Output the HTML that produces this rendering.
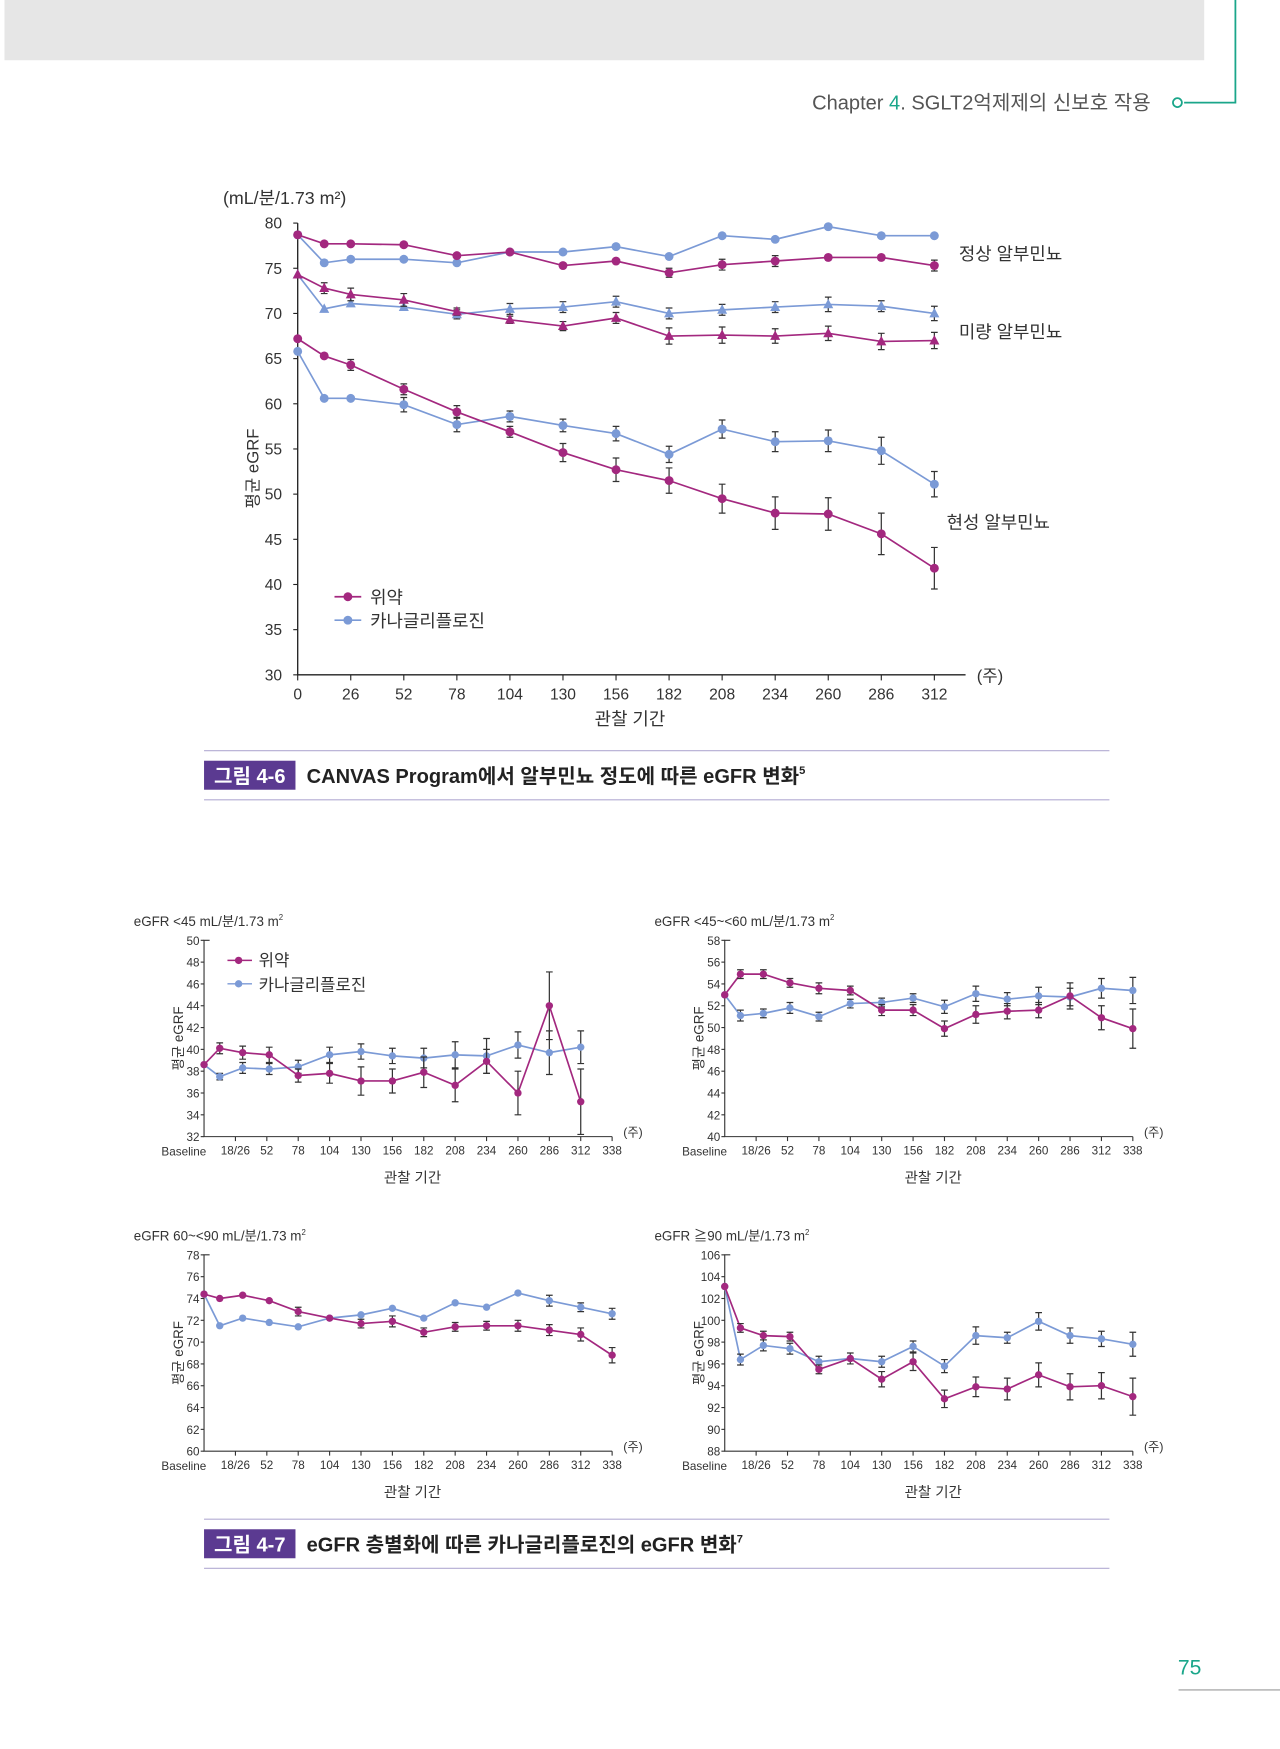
<!DOCTYPE html>
<html><head><meta charset="utf-8"><style>
html,body{margin:0;padding:0;background:#fff;}
svg{display:block;font-family:"Liberation Sans","Noto Sans CJK KR",sans-serif;}
</style></head><body>
<svg id="pg" width="1280" height="1749" viewBox="0 0 1148 1568" preserveAspectRatio="none" xmlns="http://www.w3.org/2000/svg">
<rect x="4" y="0" width="1076" height="54" fill="#e6e6e6"/>
<path d="M1108 0 V92 H1062" fill="none" stroke="#1aa68a" stroke-width="1.6"/>
<circle cx="1056" cy="92" r="4" fill="#fff" stroke="#1aa68a" stroke-width="1.6"/>
<text x="1032" y="98" text-anchor="end" font-size="18" fill="#555">Chapter <tspan fill="#1aa68a">4</tspan>. SGLT2억제제의 신보호 작용</text>
<g id="top"></g>
<g id="c1"></g>
<g id="c2"></g>
<g id="c3"></g>
<g id="c4"></g>
<g>
<line x1="183" y1="673" x2="995" y2="673" stroke="#b3abd3"/><line x1="183" y1="717" x2="995" y2="717" stroke="#b3abd3"/>
<rect x="183" y="682" width="82" height="26" fill="#5b3a91"/>
<text x="224" y="702" text-anchor="middle" fill="#fff" font-size="18" font-weight="bold">그림 4-6</text>
<text x="275" y="702" font-size="18" font-weight="bold" fill="#222">CANVAS Program에서 알부민뇨 정도에 따른 eGFR 변화<tspan font-size="10" dy="-8">5</tspan></text>
</g>
<g>
<line x1="183" y1="1362" x2="995" y2="1362" stroke="#b3abd3"/><line x1="183" y1="1406" x2="995" y2="1406" stroke="#b3abd3"/>
<rect x="183" y="1371" width="82" height="26" fill="#5b3a91"/>
<text x="224" y="1391" text-anchor="middle" fill="#fff" font-size="18" font-weight="bold">그림 4-7</text>
<text x="275" y="1391" font-size="18" font-weight="bold" fill="#222">eGFR 층별화에 따른 카나글리플로진의 eGFR 변화<tspan font-size="10" dy="-8">7</tspan></text>
</g>
<text x="1067" y="1501" text-anchor="middle" font-size="19" fill="#1aa68a">75</text>
<line x1="1057" y1="1515" x2="1148" y2="1515" stroke="#999"/>
</svg>
<script>
const PINK="#a3287f", BLUE="#7b9ad6", NS="http://www.w3.org/2000/svg";
// top chart data
const topWeeks=[0,13,26,52,78,104,130,156,182,208,234,260,286,312];
const topTicks=[0,26,52,78,104,130,156,182,208,234,260,286,312];
const normPlacebo=[78.7,77.7,77.7,77.6,76.4,76.8,75.3,75.8,74.5,75.4,75.8,76.2,76.2,75.3];
const normCana=[78.7,75.6,76.0,76.0,75.6,76.8,76.8,77.4,76.3,78.6,78.2,79.6,78.6,78.6];
const microPlacebo=[74.3,72.8,72.1,71.5,70.2,69.3,68.6,69.5,67.5,67.6,67.5,67.8,66.9,67.0];
const microCana=[74.3,70.5,71.1,70.7,69.9,70.5,70.7,71.3,70.0,70.4,70.7,71.0,70.8,70.0];
const macroPlacebo=[67.2,65.3,64.3,61.6,59.1,56.9,54.6,52.7,51.5,49.5,47.9,47.8,45.6,41.8];
const macroCana=[65.8,60.6,60.6,59.9,57.7,58.6,57.6,56.7,54.4,57.2,55.8,55.9,54.8,51.1];
const normPlaceboErr=[0,0,0,0,0,0,0,0,0.5,0.6,0.6,0,0,0.6];
const normCanaErr=[0,0,0,0,0,0,0,0,0,0,0,0,0,0];
const microPlaceboErr=[0,0.6,0.7,0.7,0.4,0.4,0.5,0.6,0.9,0.9,0.8,0.8,0.9,0.9];
const microCanaErr=[0,0,0,0,0.5,0.6,0.6,0.6,0.6,0.6,0.6,0.8,0.6,0.8];
const macroPlaceboErr=[0,0,0.6,0.6,0.7,0.6,1.0,1.3,1.4,1.6,1.8,1.8,2.3,2.3];
const macroCanaErr=[0,0,0,0.8,0.8,0.6,0.7,0.8,0.9,1.0,1.1,1.2,1.5,1.4];
// small charts data
const smWeeks=[0,13,32,54,78,104,130,156,182,208,234,260,286,312,338];
const smTickVals=[26,52,78,104,130,156,182,208,234,260,286,312,338];
const smTickLabels=["18/26","52","78","104","130","156","182","208","234","260","286","312","338"];
const c1Placebo=[38.6,40.1,39.7,39.5,37.6,37.8,37.1,37.1,37.9,36.7,38.9,36.0,44.0,35.2];
const c1Cana=[38.6,37.5,38.3,38.2,38.4,39.5,39.8,39.4,39.2,39.5,39.4,40.4,39.7,40.2];
const c1PlaceboErr=[0,0.5,0.6,0.7,0.6,0.9,1.3,1.1,1.4,1.5,1.1,2.0,3.1,3.0];
const c1CanaErr=[0,0.3,0.5,0.5,0.6,0.7,0.7,0.7,0.9,1.2,1.6,1.2,2.0,1.5];
const c2Placebo=[53.0,54.9,54.9,54.1,53.6,53.4,51.6,51.6,49.9,51.2,51.5,51.6,52.9,50.9,49.9];
const c2Cana=[53.0,51.1,51.3,51.8,51.0,52.2,52.3,52.7,51.9,53.1,52.6,52.9,52.8,53.6,53.4];
const c2PlaceboErr=[0,0.4,0.4,0.4,0.5,0.4,0.5,0.5,0.7,0.8,0.7,0.7,1.2,1.1,1.8];
const c2CanaErr=[0,0.5,0.4,0.5,0.4,0.4,0.4,0.4,0.6,0.7,0.6,0.8,0.8,0.9,1.2];
const c3Placebo=[74.4,74.0,74.3,73.8,72.8,72.2,71.7,71.9,70.9,71.4,71.5,71.5,71.1,70.7,68.8];
const c3Cana=[74.4,71.5,72.2,71.8,71.4,72.2,72.5,73.1,72.2,73.6,73.2,74.5,73.8,73.2,72.6];
const c3PlaceboErr=[0,0,0,0,0.4,0,0.4,0.5,0.4,0.4,0.4,0.5,0.5,0.6,0.7];
const c3CanaErr=[0,0,0,0,0,0,0,0,0,0,0,0,0.5,0.4,0.5];
const c4Placebo=[103.1,99.3,98.6,98.5,95.5,96.5,94.6,96.2,92.8,93.9,93.7,95.0,93.9,94.0,93.0];
const c4Cana=[103.1,96.4,97.7,97.4,96.2,96.5,96.2,97.6,95.8,98.6,98.4,99.9,98.6,98.3,97.8];
const c4PlaceboErr=[0,0.4,0.4,0.4,0.4,0,0.7,0.8,0.8,0.9,1.0,1.1,1.2,1.2,1.7];
const c4CanaErr=[0,0.5,0.5,0.5,0.5,0.5,0.5,0.5,0.6,0.8,0.5,0.8,0.7,0.7,1.1];

function mk(tag,attrs,parent,txt){const e=document.createElementNS(NS,tag);for(const k in attrs)e.setAttribute(k,attrs[k]);if(txt!==undefined)e.textContent=txt;parent.appendChild(e);return e;}

function series(g,xs,ys,errs,xf,yf,color,r,tri,name){
  const s=mk('g',{},g);
  
  
  let d='';ys.forEach((v,i)=>{d+=(i?'L':'M')+xf(xs[i]).toFixed(1)+' '+yf(v).toFixed(1);});
  const ln=mk('path',{d:d,fill:'none',stroke:color,'stroke-width':1.5},s);
  
  
  ys.forEach((v,i)=>{
    const x=xf(xs[i]),y=yf(v),e=errs[i];
    if(e>0){const eb=mk('path',{d:`M${x} ${yf(v+e)}V${yf(v-e)}M${x-3} ${yf(v+e)}h6M${x-3} ${yf(v-e)}h6`,stroke:'#333','stroke-width':1.1,fill:'none'},s);
      
      }
    let m;
    if(tri) m=mk('path',{d:`M${x} ${y-r-1}L${x+r+0.5} ${y+r-0.5}L${x-r-0.5} ${y+r-0.5}Z`,fill:color},s);
    else m=mk('circle',{cx:x,cy:y,r:r,fill:color},s);
    
    
  });
}

// ---- top chart
(function(){
  const g=document.getElementById('top');
  const X0=267,X1=838,Y0=605,Y1=200;
  const xf=w=>X0+(X1-X0)*w/312, yf=v=>Y0-(Y0-Y1)*(v-30)/50;
  mk('path',{d:`M${X0} ${Y1}V${Y0}H866`,stroke:'#222','stroke-width':1.2,fill:'none'},g);
  for(let v=30;v<=80;v+=5){const y=yf(v);mk('line',{x1:X0-4,y1:y,x2:X0,y2:y,stroke:'#222'},g);
    const t=mk('text',{x:X0-14,y:y+5,'text-anchor':'end','font-size':14,fill:'#333'},g,String(v));
    
    }
  topTicks.forEach(w=>{const x=xf(w);mk('line',{x1:x,y1:Y0,x2:x,y2:Y0+5,stroke:'#222'},g);
    const t=mk('text',{x:x,y:Y0+22,'text-anchor':'middle','font-size':14,fill:'#333'},g,String(w));
    
    });
  mk('text',{x:200,y:183,'font-size':16,fill:'#333'},g,'(mL/분/1.73 m²)');
  mk('text',{x:876,y:611,'font-size':15,fill:'#333'},g,'(주)');
  mk('text',{x:565,y:650,'text-anchor':'middle','font-size':16,fill:'#333'},g,'관찰 기간');
  mk('text',{x:232,y:420,'text-anchor':'middle','font-size':15,fill:'#333',transform:'rotate(-90 232 420)'},g,'평균 eGRF');
  mk('text',{x:860,y:233,'font-size':16,fill:'#333'},g,'정상 알부민뇨');
  mk('text',{x:860,y:303,'font-size':16,fill:'#333'},g,'미량 알부민뇨');
  mk('text',{x:849,y:474,'font-size':16,fill:'#333'},g,'현성 알부민뇨');
  series(g,topWeeks,normCana,normCanaErr,xf,yf,BLUE,4,false,'normal-canagliflozin');
  series(g,topWeeks,normPlacebo,normPlaceboErr,xf,yf,PINK,4,false,'normal-placebo');
  series(g,topWeeks,microCana,microCanaErr,xf,yf,BLUE,4,true,'micro-canagliflozin');
  series(g,topWeeks,microPlacebo,microPlaceboErr,xf,yf,PINK,4,true,'micro-placebo');
  series(g,topWeeks,macroCana,macroCanaErr,xf,yf,BLUE,4,false,'macro-canagliflozin');
  series(g,topWeeks,macroPlacebo,macroPlaceboErr,xf,yf,PINK,4,false,'macro-placebo');
  const lg=mk('g',{},g);
  
  
  mk('line',{x1:300,y1:535,x2:324,y2:535,stroke:PINK,'stroke-width':1.5},lg);mk('circle',{cx:312,cy:535,r:4,fill:PINK},lg);
  mk('text',{x:332,y:541,'font-size':16,fill:'#333'},lg,'위약');
  mk('line',{x1:300,y1:556,x2:324,y2:556,stroke:BLUE,'stroke-width':1.5},lg);mk('circle',{cx:312,cy:556,r:4,fill:BLUE},lg);
  mk('text',{x:332,y:562,'font-size':16,fill:'#333'},lg,'카나글리플로진');
})();

// ---- small charts
function small(id,X0,Ytop,title,ymin,ymax,pl,ca,ple,cae,legend){
  const g=document.getElementById(id);
  const X1=X0+366,Y0=Ytop+176;
  const xf=w=>X0+(X1-X0)*w/338, yf=v=>Y0-176*(v-ymin)/(ymax-ymin);
  mk('path',{d:`M${X0+5} ${Ytop}H${X0}V${Y0}H${X1}`,stroke:'#333','stroke-width':1,fill:'none'},g);
  for(let v=ymin;v<=ymax;v+=2){const y=yf(v);mk('line',{x1:X0-3,y1:y,x2:X0,y2:y,stroke:'#333'},g);
    const t=mk('text',{x:X0-4,y:y+4,'text-anchor':'end','font-size':10.5,fill:'#333'},g,String(v));
    
    }
  smTickVals.forEach((w,i)=>{const x=xf(w);mk('line',{x1:x,y1:Y0,x2:x,y2:Y0+4,stroke:'#333'},g);
    const t=mk('text',{x:x,y:Y0+16,'text-anchor':'middle','font-size':10.5,fill:'#333'},g,smTickLabels[i]);
    
    });
  mk('text',{x:X0+2,y:Y0+17,'text-anchor':'end','font-size':10.5,fill:'#333'},g,'Baseline');
  mk('text',{x:X1+10,y:Y0,'font-size':11,fill:'#333'},g,'(주)');
  mk('text',{x:X0-63,y:Ytop-13,'font-size':12,fill:'#333'},g,title).innerHTML=title;
  mk('text',{x:X0+187,y:Y0+41,'text-anchor':'middle','font-size':13,fill:'#333'},g,'관찰 기간');
  const cy=Ytop+88;
  mk('text',{x:X0-19,y:cy,'text-anchor':'middle','font-size':12,fill:'#333',transform:`rotate(-90 ${X0-19} ${cy})`},g,'평균 eGRF');
  series(g,smWeeks.slice(0,ca.length),ca,cae,xf,yf,BLUE,3.3,false,id+'-canagliflozin');
  series(g,smWeeks.slice(0,pl.length),pl,ple,xf,yf,PINK,3.3,false,id+'-placebo');
  if(legend){
    const lg=mk('g',{},g);
    
    
    mk('line',{x1:204,y1:861,x2:226,y2:861,stroke:PINK,'stroke-width':1.3},lg);mk('circle',{cx:214,cy:861,r:3.3,fill:PINK},lg);
    mk('text',{x:232,y:866,'font-size':15,fill:'#333'},lg,'위약');
    mk('line',{x1:204,y1:882,x2:226,y2:882,stroke:BLUE,'stroke-width':1.3},lg);mk('circle',{cx:214,cy:882,r:3.3,fill:BLUE},lg);
    mk('text',{x:232,y:888,'font-size':15,fill:'#333'},lg,'카나글리플로진');
  }
}
small('c1',183,843,'eGFR &lt;45 mL/분/1.73 m<tspan font-size="7" dy="-5">2</tspan>',32,50,c1Placebo,c1Cana,c1PlaceboErr,c1CanaErr,true);
small('c2',650,843,'eGFR &lt;45~&lt;60 mL/분/1.73 m<tspan font-size="7" dy="-5">2</tspan>',40,58,c2Placebo,c2Cana,c2PlaceboErr,c2CanaErr,false);
small('c3',183,1125,'eGFR 60~&lt;90 mL/분/1.73 m<tspan font-size="7" dy="-5">2</tspan>',60,78,c3Placebo,c3Cana,c3PlaceboErr,c3CanaErr,false);
small('c4',650,1125,'eGFR ≧90 mL/분/1.73 m<tspan font-size="7" dy="-5">2</tspan>',88,106,c4Placebo,c4Cana,c4PlaceboErr,c4CanaErr,false);
</script>
</body></html>
